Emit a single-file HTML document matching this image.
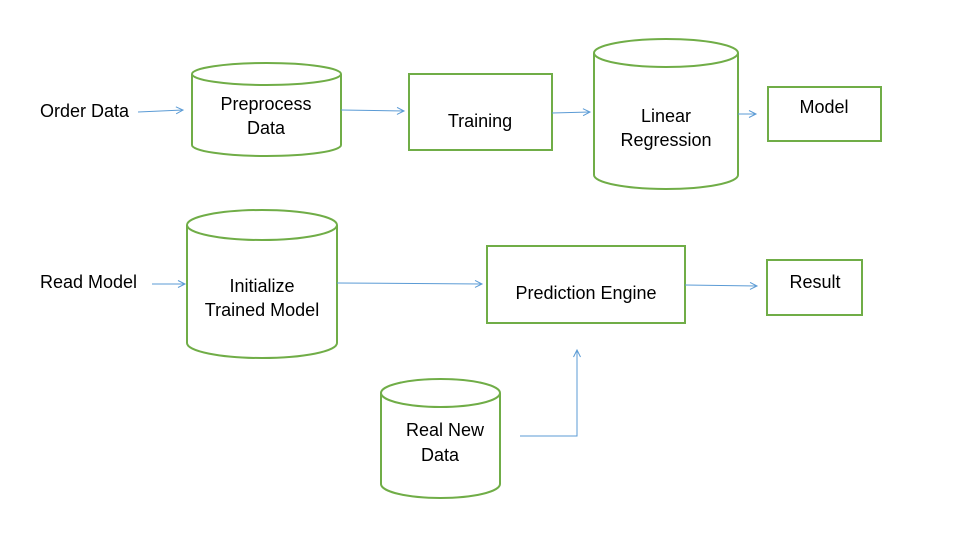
<!DOCTYPE html>
<html><head><meta charset="utf-8"><style>
html,body{margin:0;padding:0;background:#fff;}
svg{display:block;}
text{font-family:"Liberation Sans",sans-serif;font-size:18px;fill:#000;}
</style></head><body>
<svg width="953" height="544" viewBox="0 0 953 544">
<defs>
<marker id="a" markerWidth="10" markerHeight="10" refX="8" refY="4" orient="auto" markerUnits="userSpaceOnUse">
<path d="M1,0.5 L8,4 L1,7.5" fill="none" stroke="#5B9BD5" stroke-width="1"/>
</marker>
</defs>
<g fill="none" stroke="#70AD47" stroke-width="2">
<path d="M192,74 L192,145 A74.5,11 0 0 0 341,145 L341,74"/>
<ellipse cx="266.5" cy="74" rx="74.5" ry="11"/>
<rect x="409" y="74" width="143" height="76"/>
<path d="M594,53 L594,175 A72,14 0 0 0 738,175 L738,53"/>
<ellipse cx="666" cy="53" rx="72" ry="14"/>
<rect x="768" y="87" width="113" height="54"/>
<path d="M187,225 L187,343 A75,15 0 0 0 337,343 L337,225"/>
<ellipse cx="262" cy="225" rx="75" ry="15"/>
<rect x="487" y="246" width="198" height="77"/>
<rect x="767" y="260" width="95" height="55"/>
<path d="M381,393 L381,484 A59.5,14 0 0 0 500,484 L500,393"/>
<ellipse cx="440.5" cy="393" rx="59.5" ry="14"/>
</g>
<g fill="none" stroke="#5B9BD5" stroke-width="1" marker-end="url(#a)">
<line x1="138" y1="112" x2="183" y2="110"/>
<line x1="341" y1="110" x2="404" y2="111"/>
<line x1="552" y1="113" x2="590" y2="112"/>
<line x1="738" y1="114" x2="756" y2="114"/>
<line x1="152" y1="284" x2="185" y2="284"/>
<line x1="337" y1="283" x2="482" y2="284"/>
<line x1="685" y1="285" x2="757" y2="286"/>
<polyline points="520,436 577,436 577,350"/>
</g>
<text x="40" y="117">Order Data</text>
<text x="266" y="110" text-anchor="middle">Preprocess</text>
<text x="266" y="134" text-anchor="middle">Data</text>
<text x="480" y="127" text-anchor="middle">Training</text>
<text x="666" y="122" text-anchor="middle">Linear</text>
<text x="666" y="146" text-anchor="middle">Regression</text>
<text x="824" y="113" text-anchor="middle">Model</text>
<text x="40" y="288">Read Model</text>
<text x="262" y="292" text-anchor="middle">Initialize</text>
<text x="262" y="316" text-anchor="middle">Trained Model</text>
<text x="586" y="299" text-anchor="middle">Prediction Engine</text>
<text x="815" y="288" text-anchor="middle">Result</text>
<text x="445" y="436" text-anchor="middle">Real New</text>
<text x="440" y="461" text-anchor="middle">Data</text>
</svg>
</body></html>
